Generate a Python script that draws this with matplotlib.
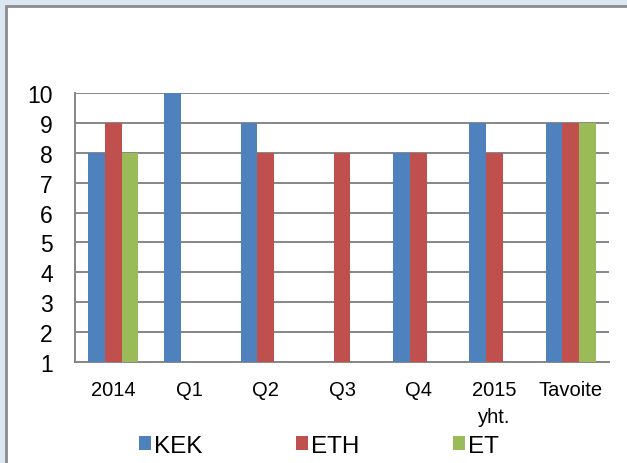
import numpy as np
import matplotlib
matplotlib.use("Agg")
import matplotlib.pyplot as plt
from matplotlib.patches import Rectangle

plt.rcParams['font.family'] = ['Liberation Sans', 'DejaVu Sans']

categories = ["2014", "Q1", "Q2", "Q3", "Q4", "2015\nyht.", "Tavoite"]
kek = [8, 10, 9, np.nan, 8, 9, 9]
eth = [9, np.nan, 8, 8, 8, 8, 9]
et = [8, np.nan, np.nan, np.nan, np.nan, np.nan, 9]
series_names = ["KEK", "ETH", "ET"]
colors = ["#4f81bd", "#c0504d", "#9bbb59"]
yticks = list(range(1, 11))

fig = plt.figure(figsize=(6.27, 4.64), dpi=100, facecolor="#dce6f2")
panel = Rectangle((6 / 627, -0.1), 1.2, 1.1 - 7 / 464, transform=fig.transFigure,
                  facecolor="white", edgecolor="#8c8c8c", linewidth=2, zorder=-10)
fig.patches.append(panel)

ax = fig.add_axes([75 / 627, 1 - 363 / 464, (609 - 75) / 627, (363 - 94) / 464])
ax.set_zorder(1)
ax.set_facecolor("white")

x = np.arange(len(categories))
w = 0.22
handles = []
for i, (vals, c, name) in enumerate(zip([kek, eth, et], colors, series_names)):
    h = ax.bar(x + (i - 1) * w, vals, width=w, color=c, label=name, zorder=3,
               linewidth=0)
    handles.append(h)

ax.set_xlim(-0.5, len(categories) - 0.5)
ax.set_ylim(1, 10)
ax.set_yticks(yticks)
ax.set_yticklabels([str(t) for t in yticks], fontsize=16.5)
ax.set_xticks(x)
ax.set_xticklabels(categories, fontsize=14.5, linespacing=1.5)
ax.tick_params(axis='y', length=0, pad=16)
ax.tick_params(axis='x', length=0, pad=13)
ax.grid(axis='y', color="#868686", linewidth=1.4, zorder=1)
ax.set_axisbelow(True)
for s in ["top", "right"]:
    ax.spines[s].set_visible(False)
for s in ["left", "bottom"]:
    ax.spines[s].set_color("#868686")
    ax.spines[s].set_linewidth(1.4)

leg = fig.legend(handles=handles, labels=series_names, loc="center",
                 bbox_to_anchor=(0.508, 1 - 447 / 464), ncol=3, frameon=False,
                 fontsize=17.5, handlelength=0.5, handleheight=0.5,
                 handletextpad=0.12, columnspacing=3.85)
leg.set_zorder(2)

fig.savefig("out.png", dpi=100, facecolor=fig.get_facecolor())
